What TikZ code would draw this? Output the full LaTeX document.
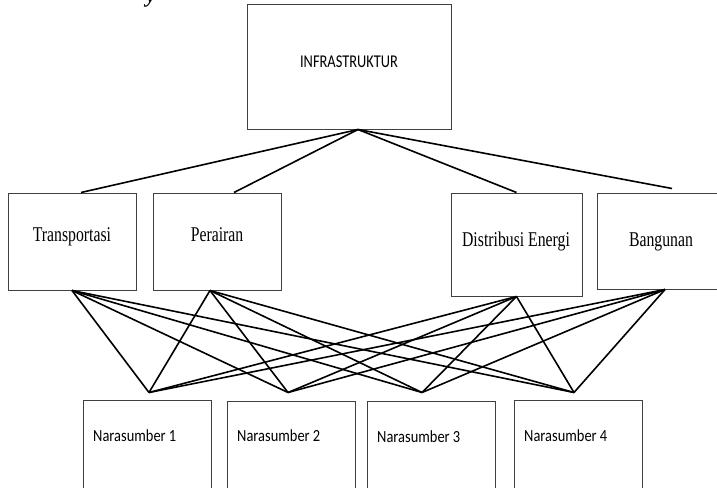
\documentclass[tikz,border=0pt]{standalone}
\usepackage{fontspec}
\setmainfont{Liberation Serif}
\newfontfamily\calfont{Carlito}
\begin{document}
\begin{tikzpicture}[x=1pt,y=-1pt,
  box/.style={draw=black!75, line width=1pt, inner sep=0pt, fill=white},
  conn/.style={line width=1.6pt, draw=black},
  serlbl/.style={inner sep=0pt, anchor=base, font=\fontsize{21}{21}\selectfont},
  sanlbl/.style={inner sep=0pt, anchor=base west, font=\calfont\fontsize{17}{17}\selectfont}]
\useasboundingbox (0,0) rectangle (717,487);
\fill[white] (0,0) rectangle (717,487);

% boxes
\node[box, minimum width=204pt, minimum height=124pt] (infra) at (349,67) {};
\node[box, minimum width=128pt, minimum height=97pt] (T) at (72,241.5) {};
\node[box, minimum width=128pt, minimum height=97pt] (P) at (217,241.5) {};
\node[box, minimum width=131pt, minimum height=103pt] (D) at (516.5,244.5) {};
\node[box, minimum width=128pt, minimum height=96pt] (B) at (661,241) {};
\node[box, minimum width=128pt, minimum height=95pt] (N1) at (147,447.5) {};
\node[box, minimum width=128pt, minimum height=94pt] (N2) at (291,448) {};
\node[box, minimum width=128pt, minimum height=94pt] (N3) at (431,448) {};
\node[box, minimum width=128pt, minimum height=95pt] (N4) at (578,447.5) {};

% fragment of heading (cut off at the top edge, as in the reference)
\node[inner sep=0pt, anchor=base, font=\fontsize{22}{22}\selectfont\bfseries\itshape] (frag) at (151,3) {y};

% labels
\node[inner sep=0pt, anchor=base, font=\calfont\fontsize{18}{18}\selectfont] (tinfra) at (349,67) {\scalebox{0.8}[1]{INFRASTRUKTUR}};
\node[serlbl] (tT) at (72,241.5) {\scalebox{0.75}[1]{Transportasi}};
\node[serlbl] (tP) at (217,241.5) {\scalebox{0.75}[1]{Perairan}};
\node[serlbl] (tD) at (516,246) {\scalebox{0.75}[1]{Distribusi Energi}};
\node[serlbl] (tB) at (661,246) {\scalebox{0.75}[1]{Bangunan}};
\node[sanlbl] (tN1) at (93,441.7) {\scalebox{0.85}[1]{Narasumber 1}};
\node[sanlbl] (tN2) at (237,441.7) {\scalebox{0.85}[1]{Narasumber 2}};
\node[sanlbl] (tN3) at (377,442.5) {\scalebox{0.85}[1]{Narasumber 3}};
\node[sanlbl] (tN4) at (524,441.5) {\scalebox{0.85}[1]{Narasumber 4}};

% junction points
\coordinate (ij) at ([xshift=9pt]infra.south);
\coordinate (tTop) at ([xshift=9pt]T.north);
\coordinate (pTop) at ([xshift=17pt]P.north);
\coordinate (dTop) at (D.north);
\coordinate (bTop) at ([xshift=11pt,yshift=4pt]B.north);
\coordinate (tBot) at (T.south);
\coordinate (pBot) at ([xshift=-7pt]P.south);
\coordinate (dBot) at (D.south);
\coordinate (bBot) at ([xshift=4pt]B.south);
\coordinate (n1j) at ([xshift=2pt,yshift=7pt]N1.north);
\coordinate (n2j) at ([xshift=-3pt,yshift=8pt]N2.north);
\coordinate (n3j) at ([xshift=-9pt,yshift=8pt]N3.north);
\coordinate (n4j) at ([xshift=-4pt,yshift=7pt]N4.north);

% top connectors
\foreach \m in {tTop,pTop,dTop,bTop} \draw[conn] (ij) -- (\m);
% cross connectors
\foreach \s in {tBot,pBot,dBot,bBot}
  \foreach \n in {n1j,n2j,n3j,n4j}
    \draw[conn] (\s) -- (\n);
\end{tikzpicture}
\end{document}
